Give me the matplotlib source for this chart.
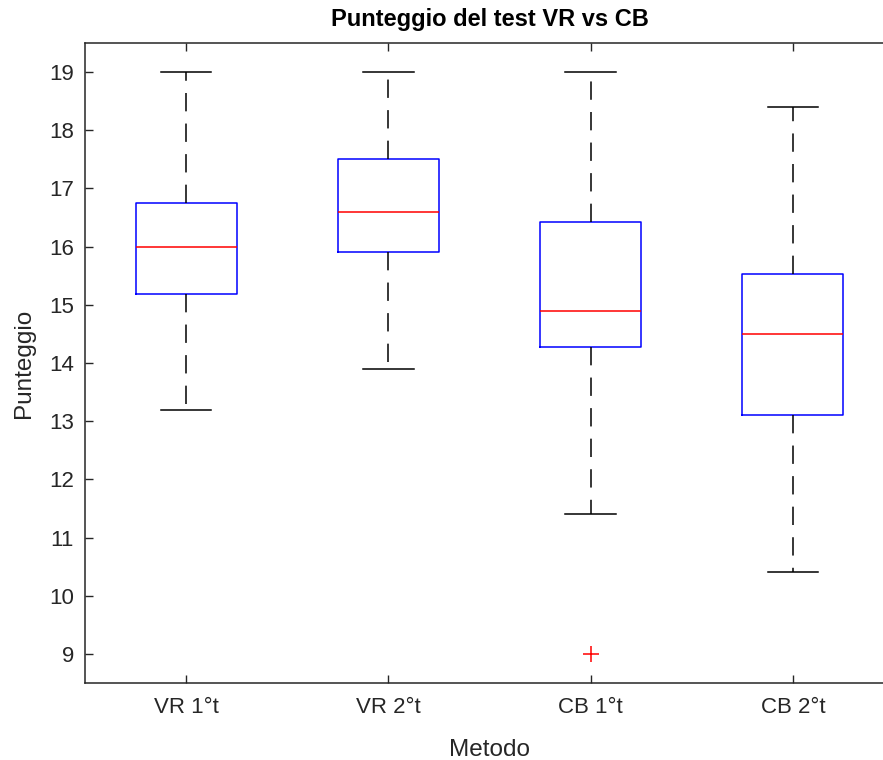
import matplotlib
matplotlib.use("Agg")
import matplotlib.pyplot as plt

categories = ["VR 1°t", "VR 2°t", "CB 1°t", "CB 2°t"]
whislo = [13.2, 13.9, 11.4, 10.4]
q1 = [15.18, 15.9, 14.28, 13.1]
med = [16.0, 16.6, 14.9, 14.5]
q3 = [16.75, 17.5, 16.43, 15.53]
whishi = [19.0, 19.0, 19.0, 18.4]
outliers = [[], [], [9.0], []]

plt.rcParams['font.family'] = ['Liberation Sans', 'DejaVu Sans']

fig = plt.figure(figsize=(8.83, 7.6), dpi=100)
ax = fig.add_axes([85/883, 77/760, 809/883, 640/760])

stats = []
for i, c in enumerate(categories):
    stats.append(dict(label=c, whislo=whislo[i], q1=q1[i], med=med[i],
                      q3=q3[i], whishi=whishi[i], fliers=outliers[i]))

ax.bxp(stats, positions=[1, 2, 3, 4], widths=0.5, showfliers=True,
       boxprops=dict(color='#0000ff', linewidth=1.1),
       medianprops=dict(color='#ff0000', linewidth=1.1),
       whiskerprops=dict(color='#000000', linewidth=1.1, linestyle=(0, (12, 8))),
       capprops=dict(color='#000000', linewidth=1.1),
       flierprops=dict(marker='+', markeredgecolor='#ff0000', markersize=11,
                       markeredgewidth=1.1, linestyle='none'),
       capwidths=0.25)

ax.set_xlim(0.5, 4.5)
ax.set_ylim(8.5, 19.5)
ax.set_yticks(range(9, 20))
ax.set_xticks([1, 2, 3, 4])
ax.set_xticklabels(categories)

for s in ax.spines.values():
    s.set_color('#262626')
    s.set_linewidth(1.1)
ax.spines['right'].set_visible(False)
ax.tick_params(direction='in', length=6, width=1.0, color='#262626',
               labelcolor='#262626', labelsize=16, top=True, right=False)
ax.tick_params(axis='x', pad=10)
ax.tick_params(axis='y', pad=8)

ax.set_title("Punteggio del test VR vs CB", fontsize=17, fontweight='bold',
             color='#000000', pad=12)
ax.set_ylabel("Punteggio", fontsize=17.5, color='#262626', labelpad=10)
ax.set_xlabel("Metodo", fontsize=17.5, color='#262626', labelpad=15)

fig.savefig("out.png", dpi=100)
